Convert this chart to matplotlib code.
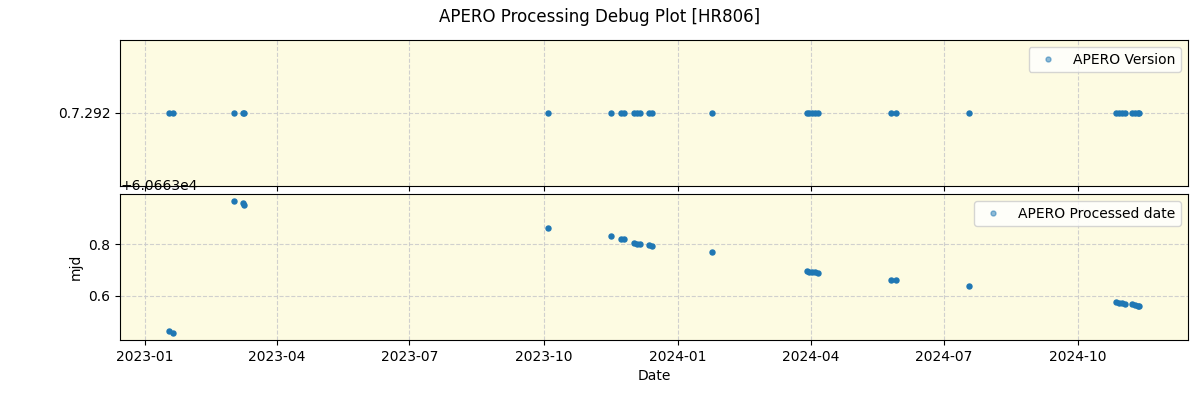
import matplotlib
matplotlib.use("Agg")
import matplotlib.pyplot as plt
import pandas as pd

obs_dates = [
    "2023-01-17 00:00", "2023-01-20 00:00", "2023-03-03 00:00", "2023-03-09 00:00", "2023-03-09 12:00",
    "2023-10-04 00:00", "2023-11-16 00:00", "2023-11-23 00:00", "2023-11-25 00:00", "2023-12-02 00:00",
    "2023-12-04 00:00", "2023-12-06 00:00", "2023-12-12 00:00", "2023-12-14 00:00", "2024-01-24 00:00",
    "2024-03-29 00:00", "2024-03-31 00:00", "2024-04-02 00:00", "2024-04-04 00:00", "2024-04-06 00:00",
    "2024-05-26 00:00", "2024-05-29 00:00", "2024-07-18 00:00", "2024-10-27 00:00", "2024-10-29 00:00",
    "2024-10-31 00:00", "2024-11-02 00:00", "2024-11-07 00:00", "2024-11-09 00:00", "2024-11-11 00:00",
    "2024-11-12 00:00",
]
processed_frac = [
    0.464, 0.455, 0.968, 0.957, 0.953,
    0.864, 0.830, 0.818, 0.818, 0.804,
    0.802, 0.799, 0.796, 0.791, 0.768,
    0.695, 0.694, 0.694, 0.692, 0.690,
    0.662, 0.662, 0.637, 0.576, 0.573,
    0.571, 0.569, 0.567, 0.565, 0.562,
    0.560,
]
mjd_base = 60663
apero_version = ["0.7.292"] * len(obs_dates)

dates = pd.to_datetime(obs_dates, format="%Y-%m-%d %H:%M")
processed_mjd = [mjd_base + v for v in processed_frac]

fig, (ax1, ax2) = plt.subplots(2, 1, figsize=(12, 4), dpi=100, sharex=True,
                               gridspec_kw=dict(hspace=0.055))
fig.subplots_adjust(left=0.1, right=0.99, top=0.9, bottom=0.15)
bg = "#fdfbe2"
c = "#1f77b4"

ax1.plot(dates, apero_version, "o", ms=3.6, color=c, label="APERO Version")
ax2.plot(dates, processed_mjd, "o", ms=3.6, color=c, label="APERO Processed date")

for ax in (ax1, ax2):
    ax.set_facecolor(bg)
    ax.grid(True, linestyle="--", color="#cccccc", alpha=0.9)
    leg = ax.legend(loc="upper right")
    for h in leg.legend_handles:
        h.set_alpha(0.5)

ax2.set_ylabel("mjd")
ax2.set_xlabel("Date")
fig.suptitle("APERO Processing Debug Plot [HR806]")

fig.savefig("out.png")
